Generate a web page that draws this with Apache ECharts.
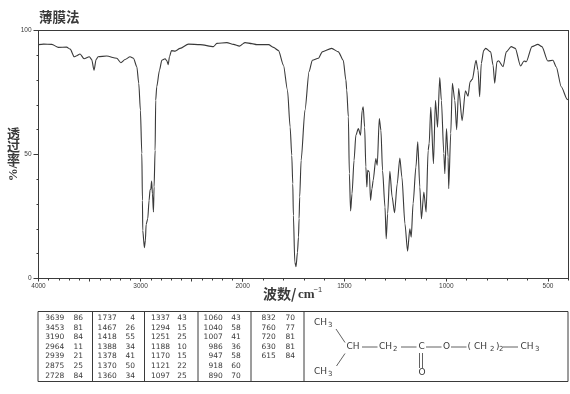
<!DOCTYPE html>
<html>
<head>
<meta charset="utf-8">
<script src="https://cdn.jsdelivr.net/npm/echarts@6/dist/echarts.min.js"></script>
<style>
html, body { margin: 0; padding: 0; background: #fff; }
#chart { width: 570px; height: 394px; }
</style>
</head>
<body>
<div id="chart"></div>
<script>
// [wavenumber, transmittance %]
var spectrum = [
    [4000,94.3],[3950,94.5],[3870,94.4],[3805,93.2],[3725,93.3],[3690,92.5],[3650,89.4],[3632,89.7],
    [3593,90.5],[3554,88.6],[3502,89.4],[3479,88.3],[3456,84],[3436,88.3],[3417,89.4],[3332,89.7],
    [3234,88.8],[3193,87],[3152,88.3],[3103,89.4],[3070,88.8],[3037,85.4],[3018,78.7],[3002,67.9],
    [2988,50.4],[2982,31.5],[2979,19.4],[2963,12.4],[2953,15.4],[2946,21.8],[2930,24.1],[2917,31.5],
    [2907,35.8],[2900,36],[2892,39.3],[2884,34.2],[2874,26.8],[2868,36.9],[2858,51.7],[2852,71.9],
    [2842,77.3],[2815,84],[2792,88],[2760,88.6],[2743,87.8],[2730,86.2],[2717,89.4],[2698,91.9],
    [2662,91.7],[2613,92.8],[2531,94.5],[2417,94.3],[2286,93.5],[2253,94.8],[2155,95.1],[2090,94.4],
    [2031,93.7],[2000,94.6],
    [1988,95.1],[1955,94.7],[1931,94.3],[1873,94.3],[1849,93.2],[1824,91.9],[1800,86.1],[1780,76],
    [1767,61.1],[1759,49.7],[1754,38.2],[1751,25.5],[1744,6.6],[1738,4.8],[1731,10.6],[1726,16.7],
    [1723,24.1],[1720,32.9],[1713,47.7],[1694,67.9],[1674,83.4],[1658,88],[1628,88.8],[1609,91.4],
    [1563,92.8],[1530,91.4],[1506,88],[1493,80],[1489,76],[1481,65.2],[1476,42.3],[1470,27.2],
    [1463,34.2],[1453,47.7],[1444,57.8],[1432,60.5],[1421,57.8],[1413,67.9],[1408,69.2],[1401,61.1],
    [1395,45],[1390,36.9],[1386,43.6],[1378,43],[1372,31.5],[1365,36.2],[1359,39.6],[1346,48.4],
    [1339,45.7],[1329,64.5],[1321,59.8],[1313,43.6],[1301,28.8],[1295,16],[1288,26.1],[1277,43.2],
    [1266,32.9],[1254,26.5],[1241,38.2],[1228,48.6],[1218,40.9],[1203,22.1],[1190,11],[1179,20],
    [1172,16.7],[1163,30.2],[1149,45],[1140,55.1],[1130,36.9],[1122,24.1],[1110,34.9],[1099,26.8],
    [1089,51.7],[1084,54.4],[1076,69],[1063,46.3],[1053,71.9],[1043,61],[1032,81],[1024,71.9],
    [1012,50.4],[1007,42.3],[999,60.5],[991,49],[988,36.2],[978,58.5],[970,78.7],[958,71.9],
    [949,60],[939,76.6],[922,63.6],[906,75.7],[893,73.5],[883,79.3],[872,80.3],[854,88],
    [844,84],[836,73.3],[828,86.7],[816,92],[806,92.8],[782,91.4],[770,86],[762,78.7],
    [751,87.4],[743,87.8],[721,85.4],[705,91.4],[681,93.5],[661,92.8],[635,85.7],[618,87.7],
    [607,87.4],[579,93.5],[550,94.4],[530,93.5],[501,87.7],[476,88],[460,85.4],[435,77.3],[406,72.3],[400,72]
];
var majorLow = [2000, 1500, 1000, 500];
var labelsHigh = [4000, 3000];

// peak table, one column per box
var peakWave = [
    [3639, 3453, 3190, 2964, 2939, 2875, 2728],
    [1737, 1467, 1418, 1388, 1378, 1370, 1360],
    [1337, 1294, 1251, 1188, 1170, 1121, 1097],
    [1060, 1040, 1007, 986, 947, 918, 890],
    [832, 760, 720, 630, 615]
];
var peakTrans = [
    [86, 81, 84, 11, 21, 25, 84],
    [4, 26, 55, 34, 41, 50, 34],
    [43, 15, 25, 10, 15, 22, 25],
    [43, 58, 41, 36, 58, 60, 70],
    [70, 77, 81, 81, 84]
];

var ink = '#3a3a3a';
var plotLeft = 38.5, plotSeam = 242.7, plotRight = 568.4, plotTop = 30.5, plotBottom = 278.5;

var myChart = echarts.init(document.getElementById('chart'), null, { renderer: 'canvas' });

function label(x, y, str, font, align, base) {
    return {
        type: 'text', x: x, y: y, silent: true,
        style: { text: str, fill: ink, font: font, align: align || 'left', verticalAlign: base || 'middle' }
    };
}
function seg(x1, y1, x2, y2, w) {
    return {
        type: 'line', silent: true,
        shape: { x1: x1, y1: y1, x2: x2, y2: y2 },
        style: { stroke: ink, lineWidth: w || 1 }
    };
}

var cjk = '"Noto Sans CJK SC"';
var mono = '7.5px "DejaVu Sans"';
var gfx = [
    label(39, 17, '薄膜法', 'bold 13.5px ' + cjk),
    label(7, 133, '透', 'bold 13px ' + cjk),
    label(7, 146, '过', 'bold 13px ' + cjk),
    label(7, 159, '率', 'bold 13px ' + cjk),
    { type: 'text', x: 14, y: 173, rotation: Math.PI / 2, silent: true,
      style: { text: '%/', fill: ink, font: 'bold 13px "Liberation Serif"', align: 'center', verticalAlign: 'middle' } },
    label(263, 294, '波数/', 'bold 14px ' + cjk),
    label(298, 295, 'cm', 'bold 13px "Liberation Serif"'),
    label(313.5, 290, '−1', '7.5px "Liberation Sans"')
];

// table frame
var boxTop = 311.5, boxBottom = 381.5, boxLeft = 38, boxRight = 568;
gfx.push({ type: 'rect', silent: true,
    shape: { x: boxLeft, y: boxTop, width: boxRight - boxLeft, height: boxBottom - boxTop },
    style: { fill: 'none', stroke: ink, lineWidth: 1 } });
[92.5, 144.5, 198, 251, 304].forEach(function (x) { gfx.push(seg(x, boxTop, x, boxBottom)); });

var waveRight = [64.3, 116.7, 170, 222.7, 275.7];
var transRight = [83, 135, 186.7, 240.7, 295];
peakWave.forEach(function (col, c) {
    col.forEach(function (w, r) {
        var y = 318 + r * 9.6;
        gfx.push(label(waveRight[c], y, String(w), mono, 'right'));
        gfx.push(label(transRight[c], y, String(peakTrans[c][r]), mono, 'right'));
    });
});

// structural formula
var f = '9px "DejaVu Sans"', s = '7px "DejaVu Sans"';
[
    [314, 323, 'CH', f], [328, 325, '3', s],
    [314, 372, 'CH', f], [328, 374, '3', s],
    [346.5, 347, 'CH', f],
    [379, 347, 'CH', f], [393, 349, '2', s],
    [418.5, 347, 'C', f], [443, 347, 'O', f],
    [467.5, 347, '(', f], [474, 347, 'CH', f], [490, 349, '2', s],
    [496, 347, ')', f], [499, 349, '2', s],
    [520.5, 347, 'CH', f], [535, 349, '3', s],
    [418.5, 373, 'O', f]
].forEach(function (t) { gfx.push(label(t[0], t[1], t[2], t[3])); });
[
    [336, 329, 345, 342.5], [345, 353.5, 336.5, 366],
    [362, 347, 377.5, 347], [401, 347, 416.5, 347],
    [426, 347, 441.5, 347], [451, 347, 466.5, 347],
    [503, 347, 518, 347],
    [419.5, 353, 419.5, 368], [422.5, 353, 422.5, 368]
].forEach(function (b) { gfx.push(seg(b[0], b[1], b[2], b[3], 0.8)); });

var axisLine = { show: true, onZero: false, lineStyle: { color: ink, width: 1 } };
var tickFont = {
    color: ink, fontSize: 6.5, fontFamily: 'Liberation Sans', margin: 4,
    formatter: function (v) { return String(v); }
};

function frameX(gridIndex, min, max) {
    return {
        type: 'value', gridIndex: gridIndex, position: 'top', inverse: true, min: min, max: max,
        axisLine: axisLine, axisTick: { show: false }, axisLabel: { show: false }, splitLine: { show: false }
    };
}

option = {
    animation: false,
    backgroundColor: '#fff',
    grid: [
        { left: plotLeft, top: plotTop, width: plotSeam - plotLeft, height: plotBottom - plotTop },
        { left: plotSeam, top: plotTop, width: plotRight - plotSeam, height: plotBottom - plotTop }
    ],
    xAxis: [
        {
            type: 'value', gridIndex: 0, inverse: true, min: 2000, max: 4000, interval: 500,
            axisLine: axisLine,
            axisTick: { length: 3, lineStyle: { color: ink } },
            minorTick: { show: true, splitNumber: 5, length: 2, lineStyle: { color: ink } },
            axisLabel: Object.assign({ customValues: labelsHigh }, tickFont),
            splitLine: { show: false }, minorSplitLine: { show: false }
        },
        {
            type: 'value', gridIndex: 1, inverse: true, min: 400, max: 2000, interval: 100,
            axisLine: axisLine,
            axisTick: { length: 2, lineStyle: { color: ink } },
            axisLabel: Object.assign({ customValues: majorLow }, tickFont),
            splitLine: { show: false }
        },
        {
            type: 'value', gridIndex: 1, position: 'bottom', inverse: true, min: 400, max: 2000,
            axisLine: { show: false },
            axisTick: { length: 3, customValues: majorLow, lineStyle: { color: ink } },
            axisLabel: { show: false }, splitLine: { show: false }
        },
        frameX(0, 2000, 4000),
        frameX(1, 400, 2000)
    ],
    yAxis: [
        {
            type: 'value', gridIndex: 0, min: 0, max: 100, interval: 50,
            axisLine: axisLine,
            axisTick: { length: 5, lineStyle: { color: ink } },
            minorTick: { show: true, splitNumber: 5, length: 2, lineStyle: { color: ink } },
            axisLabel: Object.assign({}, tickFont, { margin: 7 }),
            splitLine: { show: false }, minorSplitLine: { show: false }
        },
        {
            type: 'value', gridIndex: 1, position: 'right', min: 0, max: 100,
            axisLine: axisLine, axisTick: { show: false }, axisLabel: { show: false }, splitLine: { show: false }
        }
    ],
    series: [
        {
            type: 'line', xAxisIndex: 0, yAxisIndex: 0, symbol: 'none', silent: true,
            smooth: 0.25, smoothMonotone: 'x',
            lineStyle: { color: ink, width: 1.1 },
            data: spectrum.filter(function (p) { return p[0] >= 2000; })
        },
        {
            type: 'line', xAxisIndex: 1, yAxisIndex: 1, symbol: 'none', silent: true,
            smooth: 0.25, smoothMonotone: 'x',
            lineStyle: { color: ink, width: 1.1 },
            data: spectrum.filter(function (p) { return p[0] <= 2000; })
        }
    ],
    graphic: gfx
};
myChart.setOption(option);
</script>
</body>
</html>
